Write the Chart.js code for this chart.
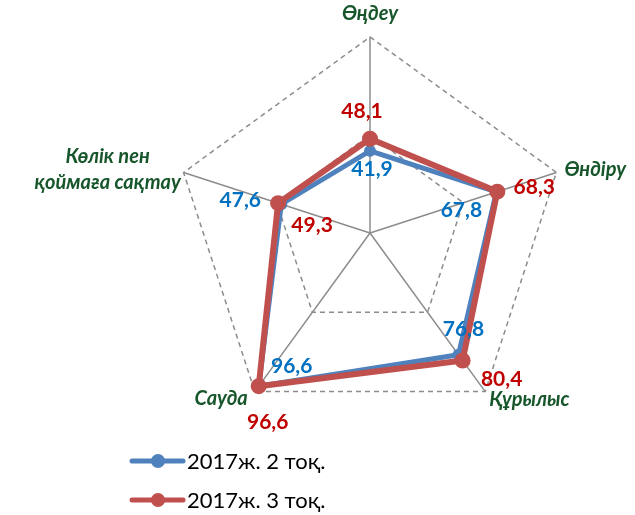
<!DOCTYPE html>
<html>
<head>
<meta charset="utf-8">
<script src="https://cdn.jsdelivr.net/npm/chart.js@4.4.1/dist/chart.umd.min.js"></script>
<style>
  html, body { margin: 0; padding: 0; background: #fff; }
  #wrap { width: 635px; height: 515px; position: relative; }
</style>
</head>
<body>
<div id="wrap"><canvas id="mycanvas"></canvas></div>
<script>
// categories (multi-line label as array)
var categories = ['Өңдеу', 'Өндіру', 'Құрылыс', 'Сауда', ['Көлік пен', 'қоймаға сақтау']];
var seriesNames = ['2017ж. 2 тоқ.', '2017ж. 3 тоқ.'];
var values2 = [41.9, 67.8, 76.8, 96.6, 47.6];
var values3 = [48.1, 68.3, 80.4, 96.6, 49.3];
var tickValues = [0, 50, 100];

var blueLine = '#4F81BD', redLine = '#C0504D';
var blueText = '#0070C0', redText = '#C00000';
var greenText = '#17562B';

// where each value label sits relative to its point
var offsets2 = [[2, 18], [-35, 18], [5, -26], [33, -20], [-41, -4]];
var offsets3 = [[-8, -27], [37, -4], [39, 19], [9, 36], [34, 22]];

function fmt(v) {
    return v.toFixed(1).replace('.', ',');
}

var labelPlugin = {
    id: 'labels',
    afterDatasetsDraw: function(chart) {
        var ctx = chart.ctx;
        var scale = chart.scales.r;
        ctx.save();

        // category names
        ctx.fillStyle = greenText;
        ctx.font = 'italic bold 20px Lato';
        ctx.textBaseline = 'middle';
        var lblPos = [
            {dx: 0, dy: -23, align: 'center'},
            {dx: 8, dy: -3, align: 'left'},
            {dx: 4, dy: 8, align: 'left'},
            {dx: -7, dy: 7, align: 'right'},
            {dx: -76, dy: -3, align: 'center'}
        ];
        categories.forEach(function(c, i) {
            var p = scale.getPointPosition(i, scale.drawingArea);
            var lines = Array.isArray(c) ? c : [c];
            ctx.textAlign = lblPos[i].align;
            lines.forEach(function(t, j) {
                var y = p.y + lblPos[i].dy + (j - (lines.length - 1) / 2) * 26;
                ctx.fillText(t, p.x + lblPos[i].dx, y);
            });
        });

        // value labels
        ctx.font = 'bold 21px Lato';
        ctx.textAlign = 'center';
        [[values2, offsets2, blueText, 1], [values3, offsets3, redText, 0]].forEach(function(s) {
            var meta = chart.getDatasetMeta(s[3]);
            ctx.fillStyle = s[2];
            s[0].forEach(function(v, i) {
                var pt = meta.data[i];
                ctx.fillText(fmt(v), pt.x + s[1][i][0], pt.y + s[1][i][1]);
            });
        });

        // legend
        ctx.font = '22px Lato';
        ctx.textAlign = 'left';
        [[blueLine, seriesNames[0], 461], [redLine, seriesNames[1], 500]].forEach(function(l) {
            ctx.strokeStyle = l[0];
            ctx.lineWidth = 5;
            ctx.lineCap = 'round';
            ctx.beginPath();
            ctx.moveTo(132, l[2]);
            ctx.lineTo(183, l[2]);
            ctx.stroke();
            ctx.fillStyle = l[0];
            ctx.beginPath();
            ctx.arc(158, l[2], 7, 0, Math.PI * 2);
            ctx.fill();
            ctx.fillStyle = '#000';
            ctx.fillText(l[1], 187, l[2] + 1);
        });
        ctx.restore();
    }
};

var ctx = document.getElementById('mycanvas');

var chart = new Chart(ctx, {
    type: 'radar',
    data: {
        labels: categories,
        datasets: [
            {
                label: seriesNames[1],
                data: values3,
                borderColor: redLine,
                backgroundColor: redLine,
                borderWidth: 6,
                pointRadius: 8,
                pointBackgroundColor: redLine,
                pointBorderWidth: 0,
                fill: false,
                order: 0
            },
            {
                label: seriesNames[0],
                data: values2,
                borderColor: blueLine,
                backgroundColor: blueLine,
                borderWidth: 5,
                pointRadius: 6,
                pointBackgroundColor: blueLine,
                pointBorderWidth: 0,
                fill: false,
                order: 1
            }
        ]
    },
    options: {
        responsive: true,
        maintainAspectRatio: false,
        animation: false,
        layout: {
            padding: {top: 37, bottom: 86, left: 174, right: 69}
        },
        plugins: {
            legend: {display: false},
            tooltip: {enabled: false}
        },
        scales: {
            r: {
                min: tickValues[0],
                max: tickValues[tickValues.length - 1],
                ticks: {display: false, stepSize: tickValues[1] - tickValues[0]},
                pointLabels: {display: false},
                grid: {
                    color: '#8c8c8c',
                    lineWidth: 1.5
                },
                border: {
                    dash: [5, 4]
                },
                angleLines: {
                    color: '#8c8c8c',
                    lineWidth: 1.5
                }
            }
        }
    },
    plugins: [labelPlugin]
});
</script>
</body>
</html>
